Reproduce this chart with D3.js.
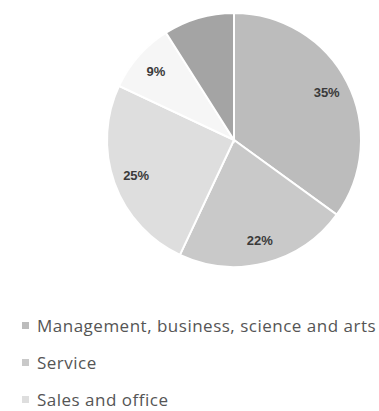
<!DOCTYPE html>
<html><head><meta charset="utf-8">
<script src="https://cdn.jsdelivr.net/npm/d3@7"></script>
<style>body{margin:0;background:#fff}svg{display:block}</style>
</head><body>
<script>
const categories = ["Management, business, science and arts","Service","Sales and office","Natural resources, construction, and maintenance","Production, transportation, and material moving"];
const values = [35, 22, 25, 9, 9];
const labels = ["35%","22%","25%","9%",""];
const colors = ["#bcbcbc","#c9c9c9","#dedede","#f6f6f6","#a4a4a4"];
const legendShown = categories.slice(0, 3);

const W = 379, H = 411;
const svg = d3.select("body").append("svg").attr("width", W).attr("height", H);
const cx = 234, cy = 140, r = 127;
const pie = d3.pie().sort(null).value(d => d)(values);
const arc = d3.arc().innerRadius(0).outerRadius(r);
const labelArc = d3.arc().innerRadius(104).outerRadius(104);
const g = svg.append("g").attr("transform", `translate(${cx},${cy})`);
g.selectAll("path").data(pie).join("path")
  .attr("d", arc).attr("fill", (d,i) => colors[i])
  .attr("stroke", "#fff").attr("stroke-width", 2);
g.selectAll("text").data(pie).join("text")
  .attr("transform", d => `translate(${labelArc.centroid(d)})`)
  .attr("text-anchor", "middle").attr("dy", "0.35em")
  .attr("font-family", "Liberation Sans, Arial, sans-serif")
  .attr("font-size", 13).attr("font-weight", "bold").attr("fill", "#3a3a3a")
  .text((d,i) => labels[i]);

const leg = svg.append("g");
const items = leg.selectAll("g").data(legendShown).join("g")
  .attr("transform", (d,i) => `translate(0,${326 + i*37})`);
items.append("rect").attr("x", 22).attr("y", -4).attr("width", 7).attr("height", 7)
  .attr("fill", (d,i) => colors[i]);
items.append("text").attr("x", 37).attr("dy", "0.35em")
  .attr("font-family", "Open Sans, sans-serif").attr("font-size", 17)
  .attr("letter-spacing", 0.5).attr("fill", "#555")
  .text(d => d);
</script>
</body></html>
